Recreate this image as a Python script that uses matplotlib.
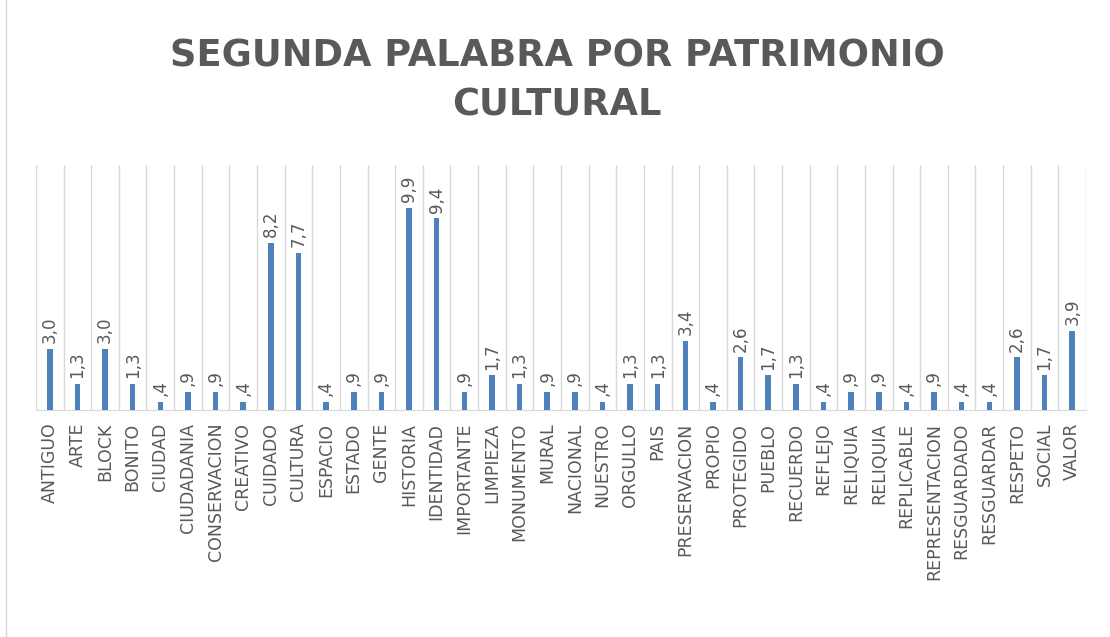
import numpy as np
import matplotlib.pyplot as plt
from matplotlib.patches import Rectangle

categorias = ["ANTIGUO", "ARTE", "BLOCK", "BONITO", "CIUDAD", "CIUDADANIA",
              "CONSERVACION", "CREATIVO", "CUIDADO", "CULTURA", "ESPACIO",
              "ESTADO", "GENTE", "HISTORIA", "IDENTIDAD", "IMPORTANTE",
              "LIMPIEZA", "MONUMENTO", "MURAL", "NACIONAL", "NUESTRO",
              "ORGULLO", "PAIS", "PRESERVACION", "PROPIO", "PROTEGIDO",
              "PUEBLO", "RECUERDO", "REFLEJO", "RELIQUIA", "RELIQUIA",
              "REPLICABLE", "REPRESENTACION", "RESGUARDADO", "RESGUARDAR",
              "RESPETO", "SOCIAL", "VALOR"]
valores = [3.0, 1.3, 3.0, 1.3, 0.4, 0.9, 0.9, 0.4, 8.2, 7.7, 0.4, 0.9, 0.9,
           9.9, 9.4, 0.9, 1.7, 1.3, 0.9, 0.9, 0.4, 1.3, 1.3, 3.4, 0.4, 2.6,
           1.7, 1.3, 0.4, 0.9, 0.9, 0.4, 0.9, 0.4, 0.4, 2.6, 1.7, 3.9]
titulo = "SEGUNDA PALABRA POR PATRIMONIO\nCULTURAL"

gris = "#595959"
plt.rcParams['font.family'] = ['DejaVu Sans']

fig = plt.figure(figsize=(11.1, 6.37), dpi=100)
ax = fig.add_axes([0.0324, 0.356, 0.946, 0.385])

x = np.arange(len(categorias))
bars = ax.bar(x, valores, width=0.2, color="#4F81BD", zorder=3)

etiquetas = [f"{v:.1f}".replace(".", ",").lstrip("0") for v in valores]
ax.bar_label(bars, labels=etiquetas, rotation=90, padding=4, color=gris, fontsize=12)

ax.set_xlim(-0.5, len(categorias) - 0.5)
ax.set_ylim(0, 12)
ax.set_yticks([])
ax.set_xticks(x)
ax.set_xticklabels(categorias, rotation=90, color=gris, fontsize=12.5)
ax.set_xticks(np.arange(-0.5, len(categorias)), minor=True)
ax.tick_params(axis="x", which="both", length=0, pad=9)
ax.grid(axis="x", which="minor", color="#D9D9D9", linewidth=1, zorder=0)
ax.grid(axis="x", which="major", visible=False)
for s in ["top", "left", "right"]:
    ax.spines[s].set_visible(False)
ax.spines["bottom"].set_color("#D9D9D9")

fig.text(0.502, 0.874, titulo, ha="center", va="center", fontsize=26.5,
         fontweight="bold", color=gris, linespacing=1.4)

fig.patches.append(Rectangle((0.0054, -0.01), 1.0, 1.02, transform=fig.transFigure,
                             fill=False, edgecolor="#D9D9D9", linewidth=1))

plt.savefig("out.png", dpi=100)
